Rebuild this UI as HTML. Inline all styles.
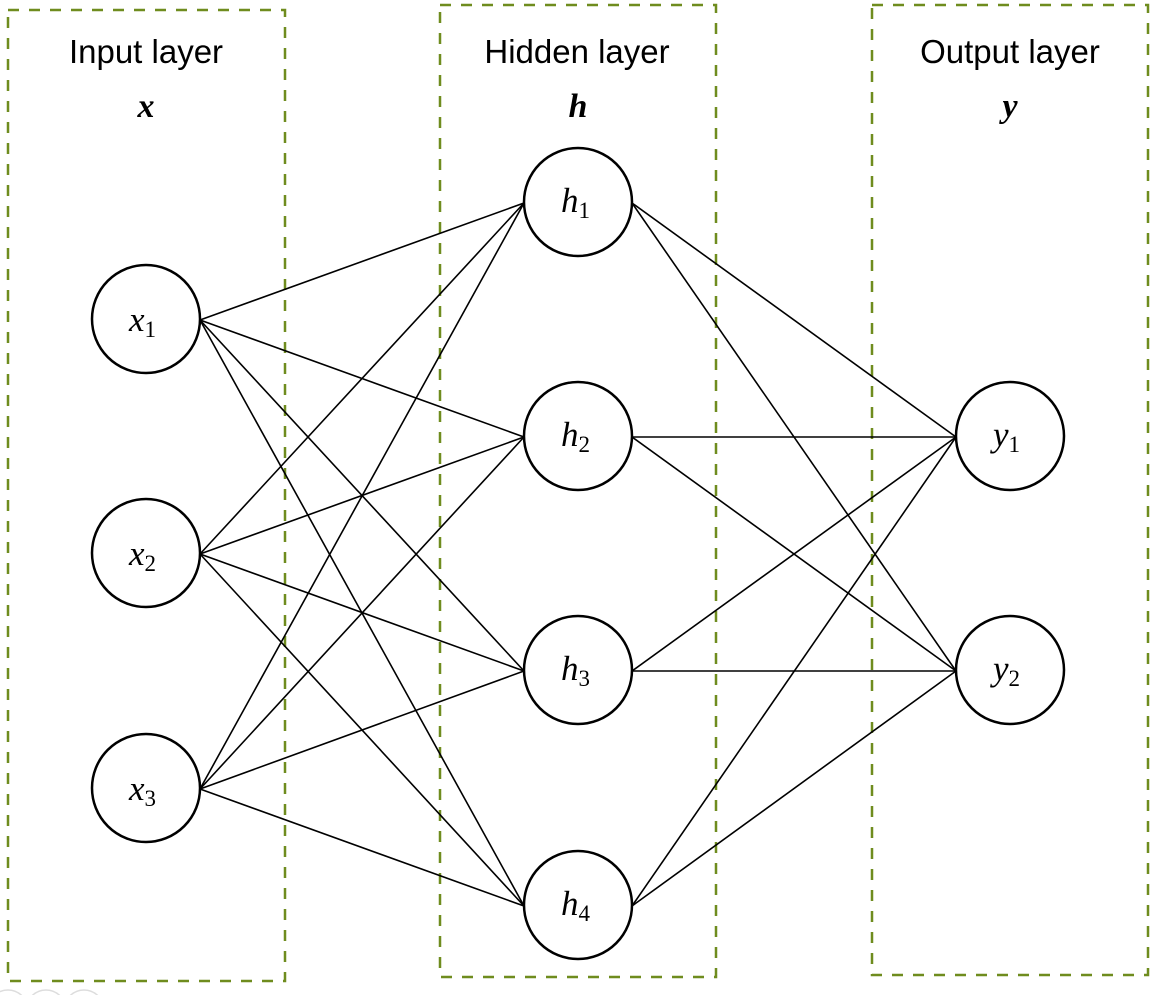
<!DOCTYPE html>
<html><head><meta charset="utf-8"><style>
html,body{margin:0;padding:0;background:#fff;}
svg{display:block;}
.lbl{font-family:"Liberation Sans",sans-serif;font-size:33px;fill:#000;}
.v{font-family:"Liberation Serif",serif;font-style:italic;font-size:35px;fill:#000;}
.s{font-family:"Liberation Serif",serif;font-style:normal;font-size:23px;}
.b{font-family:"Liberation Serif",serif;font-style:italic;font-weight:bold;font-size:34px;fill:#000;}
</style></head><body>
<svg width="1158" height="995" viewBox="0 0 1158 995" xmlns="http://www.w3.org/2000/svg">
<g fill="none" stroke="#6f8c1e" stroke-width="2.5" stroke-dasharray="11,10">
<rect x="8" y="10" width="277" height="971"/>
<rect x="440" y="5" width="276" height="972"/>
<rect x="872" y="5" width="276" height="970"/>
</g>
<g stroke="#000" stroke-width="1.6">
<line x1="200" y1="320" x2="524" y2="203"/>
<line x1="200" y1="320" x2="524" y2="437"/>
<line x1="200" y1="320" x2="524" y2="671"/>
<line x1="200" y1="320" x2="524" y2="906"/>
<line x1="200" y1="554" x2="524" y2="203"/>
<line x1="200" y1="554" x2="524" y2="437"/>
<line x1="200" y1="554" x2="524" y2="671"/>
<line x1="200" y1="554" x2="524" y2="906"/>
<line x1="200" y1="789" x2="524" y2="203"/>
<line x1="200" y1="789" x2="524" y2="437"/>
<line x1="200" y1="789" x2="524" y2="671"/>
<line x1="200" y1="789" x2="524" y2="906"/>
<line x1="632" y1="203" x2="956" y2="437"/>
<line x1="632" y1="203" x2="956" y2="671"/>
<line x1="632" y1="437" x2="956" y2="437"/>
<line x1="632" y1="437" x2="956" y2="671"/>
<line x1="632" y1="671" x2="956" y2="437"/>
<line x1="632" y1="671" x2="956" y2="671"/>
<line x1="632" y1="906" x2="956" y2="437"/>
<line x1="632" y1="906" x2="956" y2="671"/>
</g>
<g fill="#fff" stroke="#000" stroke-width="2.5">
<circle cx="146" cy="319" r="54"/>
<circle cx="146" cy="553" r="54"/>
<circle cx="146" cy="788" r="54"/>
<circle cx="578" cy="202" r="54"/>
<circle cx="578" cy="436" r="54"/>
<circle cx="578" cy="670" r="54"/>
<circle cx="578" cy="905" r="54"/>
<circle cx="1010" cy="436" r="54"/>
<circle cx="1010" cy="670" r="54"/>
</g>
<text class="lbl" x="146" y="63" text-anchor="middle">Input layer</text>
<text class="lbl" x="577" y="63" text-anchor="middle">Hidden layer</text>
<text class="lbl" x="1010" y="63" text-anchor="middle">Output layer</text>
<text class="b" x="146" y="117" text-anchor="middle">x</text>
<text class="b" x="578" y="117" text-anchor="middle">h</text>
<text class="b" x="1010" y="117" text-anchor="middle">y</text>
<text class="v" x="129" y="331">x<tspan class="s" dy="6">1</tspan></text>
<text class="v" x="129" y="565">x<tspan class="s" dy="6">2</tspan></text>
<text class="v" x="129" y="800">x<tspan class="s" dy="6">3</tspan></text>
<text class="v" x="561" y="212">h<tspan class="s" dy="6">1</tspan></text>
<text class="v" x="561" y="446">h<tspan class="s" dy="6">2</tspan></text>
<text class="v" x="561" y="680">h<tspan class="s" dy="6">3</tspan></text>
<text class="v" x="561" y="915">h<tspan class="s" dy="6">4</tspan></text>
<text class="v" x="993" y="446">y<tspan class="s" dy="6">1</tspan></text>
<text class="v" x="993" y="680">y<tspan class="s" dy="6">2</tspan></text>
<g fill="none" stroke="#ddd" stroke-width="1.5">
<circle cx="8" cy="1010" r="20"/>
<circle cx="46" cy="1010" r="20"/>
<circle cx="84" cy="1010" r="20"/>
</g>
</svg>
</body></html>
